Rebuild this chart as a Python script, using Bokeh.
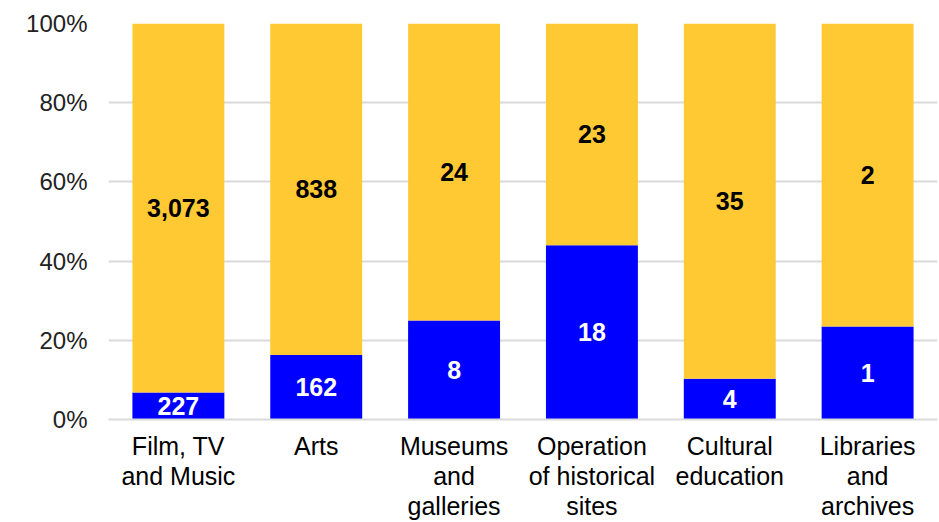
from bokeh.plotting import figure
from bokeh.models import ColumnDataSource, Range1d, FixedTicker
from bokeh.core.properties import value
from bokeh.embed import file_html
from bokeh.resources import INLINE

categories = ["Film, TV\nand Music", "Arts", "Museums\nand\ngalleries",
              "Operation\nof historical\nsites", "Cultural\neducation", "Libraries\nand\narchives"]
blue_pct = [6.8, 16.3, 25.0, 44.0, 10.3, 23.5]
yellow_pct = [100 - b for b in blue_pct]
blue_labels = ["227", "162", "8", "18", "4", "1"]
yellow_labels = ["3,073", "838", "24", "23", "35", "2"]
y_ticks = [0, 20, 40, 60, 80, 100]

BLUE = "#0000FF"
YELLOW = "#FFC933"
GRID = "#D9D9D9"
FONT = "Liberation Sans"

xs = list(range(len(categories)))
src = ColumnDataSource(dict(
    x=xs,
    blue=blue_pct,
    top=[b + y for b, y in zip(blue_pct, yellow_pct)],
    blue_mid=[b / 2 for b in blue_pct],
    yellow_mid=[b + y / 2 for b, y in zip(blue_pct, yellow_pct)],
    bl=blue_labels,
    yl=yellow_labels,
))

p = figure(width=939, height=522, output_backend="svg", toolbar_location=None,
           x_range=Range1d(-0.507, len(categories) - 1 + 0.507), y_range=Range1d(0, 100),
           min_border_left=108, min_border_right=2, min_border_top=23, min_border_bottom=100)

p.vbar(x="x", bottom=0, top="blue", width=0.667, source=src, fill_color=BLUE, line_color=None)
p.vbar(x="x", bottom="blue", top="top", width=0.667, source=src, fill_color=YELLOW, line_color=None)

p.text(x="x", y="blue_mid", text="bl", source=src, text_color="white",
       text_font=value(FONT), text_font_style="bold", text_font_size="25px",
       text_align="center", text_baseline="middle")
p.text(x="x", y="yellow_mid", text="yl", source=src, text_color="black",
       text_font=value(FONT), text_font_style="bold", text_font_size="25px",
       text_align="center", text_baseline="middle")

p.outline_line_color = None
p.xgrid.grid_line_color = None
p.ygrid.grid_line_color = GRID
p.ygrid.grid_line_width = 2
p.ygrid.ticker = FixedTicker(ticks=y_ticks)

xa = p.xaxis[0]
xa.ticker = FixedTicker(ticks=xs)
xa.major_label_overrides = {i: c for i, c in zip(xs, categories)}
xa.axis_line_color = GRID
xa.axis_line_width = 2
xa.major_tick_line_color = None
xa.minor_tick_line_color = None
xa.major_tick_out = 0
xa.major_tick_in = 0
xa.major_label_standoff = 12
xa.major_label_text_font = FONT
xa.major_label_text_font_size = "25px"
xa.major_label_text_color = "black"
xa.major_label_text_line_height = 1.075

ya = p.yaxis[0]
ya.ticker = FixedTicker(ticks=y_ticks)
ya.major_label_overrides = {t: f"{t}%" for t in y_ticks}
ya.axis_line_color = None
ya.major_tick_line_color = None
ya.minor_tick_line_color = None
ya.major_tick_out = 0
ya.major_tick_in = 0
ya.major_label_standoff = 21
ya.major_label_text_font = FONT
ya.major_label_text_font_size = "24px"
ya.major_label_text_color = "#222222"

open("out.html", "w").write(file_html(p, INLINE))
